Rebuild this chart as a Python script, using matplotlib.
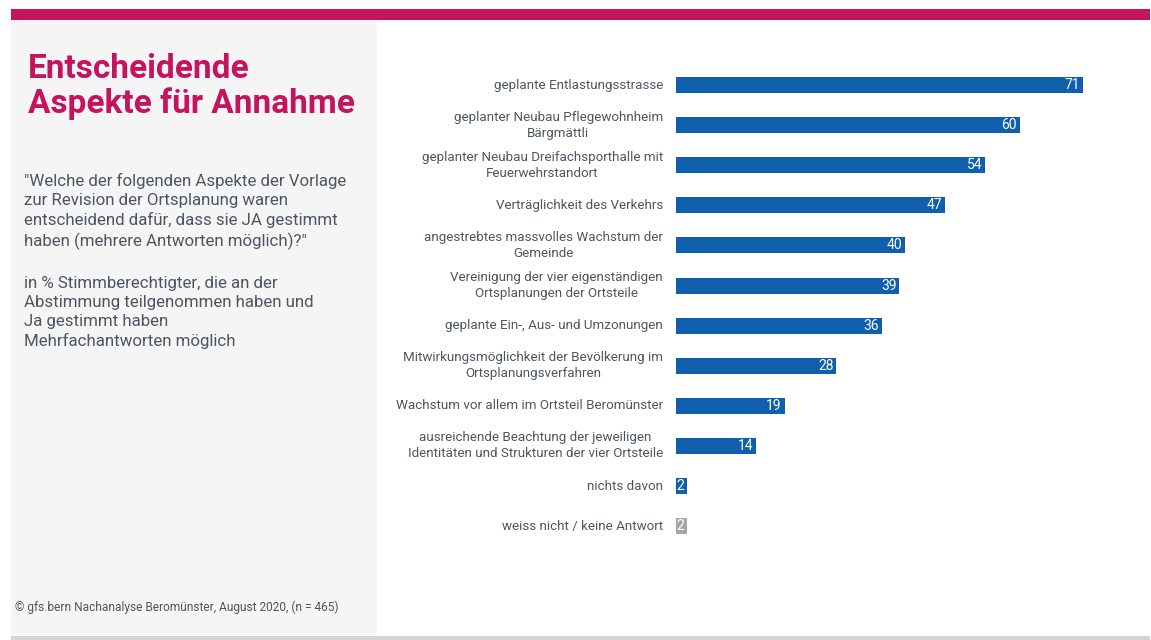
import matplotlib
matplotlib.use("Agg")
import matplotlib.pyplot as plt
from matplotlib.patches import Rectangle

plt.rcParams['font.family'] = ['Roboto', 'DejaVu Sans']

# Survey answers, top to bottom
aspects = [
    "geplante Entlastungsstrasse",
    "geplanter Neubau Pflegewohnheim\nBärgmättli",
    "geplanter Neubau Dreifachsporthalle mit\nFeuerwehrstandort",
    "Verträglichkeit des Verkehrs",
    "angestrebtes massvolles Wachstum der\nGemeinde",
    "Vereinigung der vier eigenständigen\nOrtsplanungen der Ortsteile",
    "geplante Ein-, Aus- und Umzonungen",
    "Mitwirkungsmöglichkeit der Bevölkerung im\nOrtsplanungsverfahren",
    "Wachstum vor allem im Ortsteil Beromünster",
    "ausreichende Beachtung der jeweiligen\nIdentitäten und Strukturen der vier Ortsteile",
    "nichts davon",
    "weiss nicht / keine Antwort",
]
shares = [71, 60, 54, 47, 40, 39, 36, 28, 19, 14, 2, 2]
bar_colors = ["#0f5fad"] * 11 + ["#a6a6a6"]

MAGENTA = "#c5135e"
TEXT = "#4d5660"

W, H = 1151, 640
fig = plt.figure(figsize=(W / 100, H / 100), dpi=100)
fig.patch.set_facecolor("white")

# frame: magenta band on top, grey side panel, grey rule at the bottom
fig.add_artist(Rectangle((11 / W, 1 - 20 / H), 1139 / W, 11 / H,
                         transform=fig.transFigure, color=MAGENTA, lw=0))
fig.add_artist(Rectangle((11 / W, 1 - 635 / H), 366 / W, 615 / H,
                         transform=fig.transFigure, color="#f5f5f5", lw=0))
fig.add_artist(Rectangle((11 / W, 0), 1139 / W, 4 / H,
                         transform=fig.transFigure, color="#d4d4d4", lw=0))

fig.text(28 / W, 1 - 53 / H, "Entscheidende\nAspekte für Annahme",
         color=MAGENTA, fontsize=24, fontweight="bold", va="top",
         linespacing=1.1)

fig.text(24 / W, 1 - 173 / H,
         "\"Welche der folgenden Aspekte der Vorlage\n"
         "zur Revision der Ortsplanung waren\n"
         "entscheidend dafür, dass sie JA gestimmt\n"
         "haben (mehrere Antworten möglich)?\"",
         color=TEXT, fontsize=12.2, va="top", linespacing=1.33)
fig.text(24 / W, 1 - 276 / H,
         "in % Stimmberechtigter, die an der\n"
         "Abstimmung teilgenommen haben und\n"
         "Ja gestimmt haben\n"
         "Mehrfachantworten möglich",
         color=TEXT, fontsize=12.2, va="top", linespacing=1.33)

fig.text(15 / W, 1 - 607 / H,
         "© gfs.bern Nachanalyse Beromünster, August 2020, (n = 465)",
         color=TEXT, fontsize=8.6, va="center")

# bar chart area: 0 at x=676 px, 5.73 px per percent
x0, px_per = 676, 5.73
xmax = 80
top, step = 65, 40.1
n = len(aspects)
ax = fig.add_axes([x0 / W, 1 - (top + n * step) / H,
                   xmax * px_per / W, n * step / H])
ax.set_xlim(0, xmax)
ax.set_ylim(n - 0.5, -0.5)
ax.axis("off")

ypos = list(range(n))
ax.barh(ypos, shares, height=0.4, color=bar_colors)

for y, label, v in zip(ypos, aspects, shares):
    ax.annotate(label, (0, y), xytext=(-13, 0), textcoords="offset pixels",
                ha="right", va="center", multialignment="center",
                color=TEXT, fontsize=9.6, linespacing=1.3)
    ax.annotate(str(v), (v, y), xytext=(-3, 0), textcoords="offset pixels",
                ha="right", va="center", color="white", fontsize=10)

fig.savefig("out.png", dpi=100)
